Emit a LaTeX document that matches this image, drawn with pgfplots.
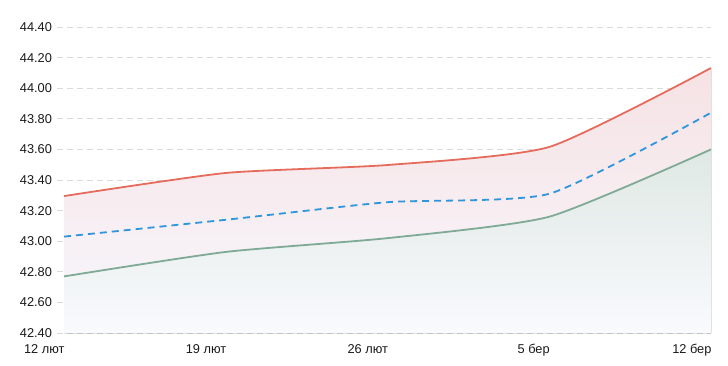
\documentclass[border=0pt]{standalone}
\usepackage{fontspec}
\setmainfont{Liberation Sans}
\usepackage{pgfplots}
\pgfplotsset{compat=1.18}
\usepgfplotslibrary{fillbetween}
\definecolor{redl}{HTML}{E56B5D}
\definecolor{bluel}{HTML}{2F95DC}
\definecolor{greenl}{HTML}{7FAA96}
\definecolor{gridc}{HTML}{DADADA}
\definecolor{pinktop}{HTML}{F6E2E4}
\definecolor{pinkbot}{HTML}{F7F3F8}
\definecolor{greentop}{HTML}{DFE8E4}
\definecolor{greenbot}{HTML}{F9FAFD}
\begin{document}
\begin{tikzpicture}
\begin{axis}[
  set layers,
  scale only axis, width=654pt, height=306pt,
  xmin=-0.0433, xmax=4, ymin=42.4, ymax=44.4,
  axis line style={draw=none},
  major tick length=0pt,
  ytick={42.4,42.6,42.8,43.0,43.2,43.4,43.6,43.8,44.0,44.2,44.4},
  yticklabel style={/pgf/number format/fixed,/pgf/number format/precision=2,/pgf/number format/fixed zerofill,font=\fontsize{12.8}{15}\selectfont,text=black!90,xshift=-1.5pt},
  /pgf/number format/assume math mode=true,
  xtick={0,1,2,3,4},
  xticklabels={12 лют,19 лют,26 лют,5 бер,12 бер},
  xticklabel style={anchor=north east,font=\fontsize{12.8}{15}\selectfont,text=black!90,xshift=4pt,yshift=-8pt},
  ymajorgrids,
  grid style={draw=gridc, line width=0.8pt, dash pattern=on 6pt off 4pt},
]
\addplot[name path=red, draw=none, forget plot, smooth, tension=0.35] coordinates {(0,43.295) (1,43.446) (2,43.498) (3,43.616) (4,44.132)};
\addplot[name path=green, draw=none, forget plot, smooth, tension=0.35] coordinates {(0,42.77) (1,42.93) (2,43.02) (3,43.16) (4,43.60)};
\path[name path=bottom] (axis cs:0,42.4) -- (axis cs:4,42.4);
\addplot[on layer=axis background, top color=pinktop, bottom color=pinkbot, draw=none] fill between[of=red and green];
\addplot[on layer=axis background, top color=greentop, bottom color=greenbot, draw=none] fill between[of=green and bottom];
\addplot[draw=greenl, line width=1.8pt, smooth, tension=0.35] coordinates {(0,42.77) (1,42.93) (2,43.02) (3,43.16) (4,43.60)};
\addplot[draw=bluel, line width=1.8pt, dash pattern=on 7pt off 5pt, smooth, tension=0.35] coordinates {(0,43.03) (1,43.14) (2,43.255) (3,43.31) (4,43.84)};
\addplot[draw=redl, line width=1.8pt, smooth, tension=0.35] coordinates {(0,43.295) (1,43.446) (2,43.498) (3,43.616) (4,44.132)};
\end{axis}
\pgfresetboundingbox
\path (-57pt,-32pt) rectangle (671pt,333pt);
\end{tikzpicture}
\end{document}
